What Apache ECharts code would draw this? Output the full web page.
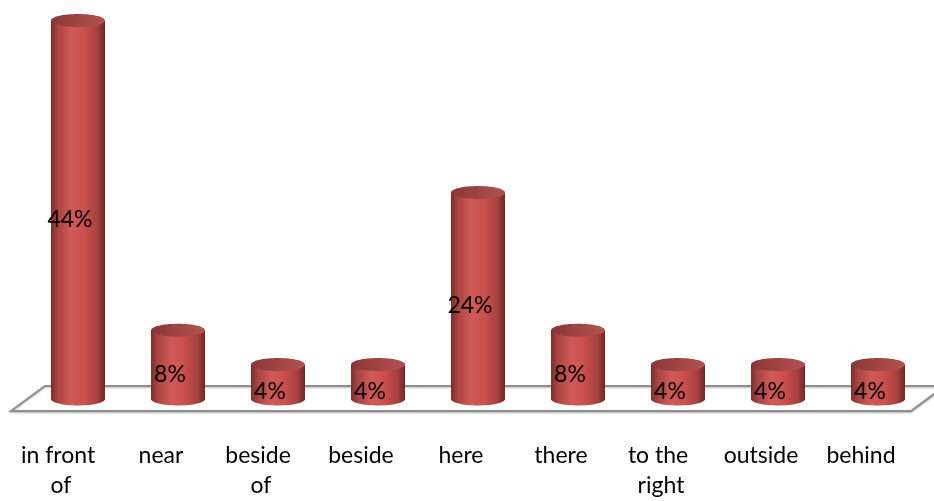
<!DOCTYPE html>
<html>
<head>
<meta charset="utf-8">
<script src="https://cdn.jsdelivr.net/npm/echarts@6/dist/echarts.min.js"></script>
<style>
  html, body { margin: 0; padding: 0; background: #fff; }
  #chart { width: 934px; height: 501px; }
</style>
</head>
<body>
<div id="chart"></div>
<script>
// Share of answers per spatial expression (percent)
const categories = ['in front of', 'near', 'beside of', 'beside', 'here', 'there', 'to the right', 'outside', 'behind'];
const percentages = [44, 8, 4, 4, 24, 8, 4, 4, 4];

const FONT = 'Lato, "Open Sans", sans-serif';
const DEPTH_X = 34, DEPTH_Y = 25;          // floor depth offset (back edge vs front edge)
const CYL_DX = 17, CYL_DY = 12;            // cylinder axis sits mid-depth on the floor
const CYL_RX = 27, CYL_RY = 6.5;

const chart = echarts.init(document.getElementById('chart'), null, { renderer: 'canvas' });

const bodyGradient = () => new echarts.graphic.LinearGradient(0, 0, 1, 0, [
  { offset: 0, color: '#7a2e2c' },
  { offset: 0.12, color: '#a94341' },
  { offset: 0.38, color: '#d05a58' },
  { offset: 0.62, color: '#c94f4d' },
  { offset: 0.86, color: '#a6413f' },
  { offset: 1, color: '#6c2826' }
]);
const capGradient = () => new echarts.graphic.LinearGradient(0, 0, 1, 0, [
  { offset: 0, color: '#8a3836' },
  { offset: 0.6, color: '#a24745' },
  { offset: 1, color: '#b25250' }
]);

function renderFloor(params, api) {
  const cs = params.coordSys;
  const x0 = cs.x, x1 = cs.x + cs.width, y = cs.y + cs.height;
  return {
    type: 'polygon',
    shape: { points: [[x0, y], [x1, y], [x1 + DEPTH_X, y - DEPTH_Y], [x0 + DEPTH_X, y - DEPTH_Y]] },
    style: {
      fill: '#ffffff', stroke: '#8f8f8f', lineWidth: 2,
      shadowBlur: 2, shadowColor: 'rgba(0,0,0,0.25)', shadowOffsetY: 1
    },
    z2: 0
  };
}

function renderCylinder(params, api) {
  const i = api.value(0), v = api.value(1);
  const base = api.coord([i, 0]);
  const top = api.coord([i, v]);
  const cx = base[0] + CYL_DX;
  const by = base[1] - CYL_DY;
  const ty = top[1] - CYL_DY;
  return {
    type: 'group',
    children: [
      { type: 'ellipse', shape: { cx: cx, cy: by, rx: CYL_RX, ry: CYL_RY }, style: { fill: bodyGradient() } },
      { type: 'rect', shape: { x: cx - CYL_RX, y: ty, width: CYL_RX * 2, height: by - ty }, style: { fill: bodyGradient() } },
      { type: 'ellipse', shape: { cx: cx, cy: ty, rx: CYL_RX, ry: CYL_RY }, style: { fill: capGradient() } },
      {
        type: 'text',
        style: {
          text: v + '%', x: cx - 8, y: (ty + by) / 2 + 10,
          align: 'center', verticalAlign: 'middle',
          font: '23px ' + FONT, fill: '#000'
        }
      }
    ]
  };
}

chart.setOption({
  animation: false,
  backgroundColor: '#ffffff',
  grid: { left: 11, right: 23, top: 24, bottom: 88, containLabel: false },
  xAxis: {
    type: 'category',
    data: categories,
    axisLine: { show: false },
    axisTick: { show: false },
    axisLabel: {
      margin: 30,
      fontFamily: FONT, fontSize: 23, color: '#000',
      lineHeight: 30, width: 90, overflow: 'break', interval: 0
    }
  },
  yAxis: { type: 'value', min: 0, max: 45, show: false, splitLine: { show: false } },
  series: [
    { type: 'custom', name: 'floor', data: [[0, 0]], renderItem: renderFloor, clip: false, z: 1, silent: true },
    {
      type: 'custom', name: 'share', clip: false, z: 2,
      data: percentages.map((v, i) => [i, v]),
      encode: { x: 0, y: 1 },
      renderItem: renderCylinder
    }
  ]
});
</script>
</body>
</html>
